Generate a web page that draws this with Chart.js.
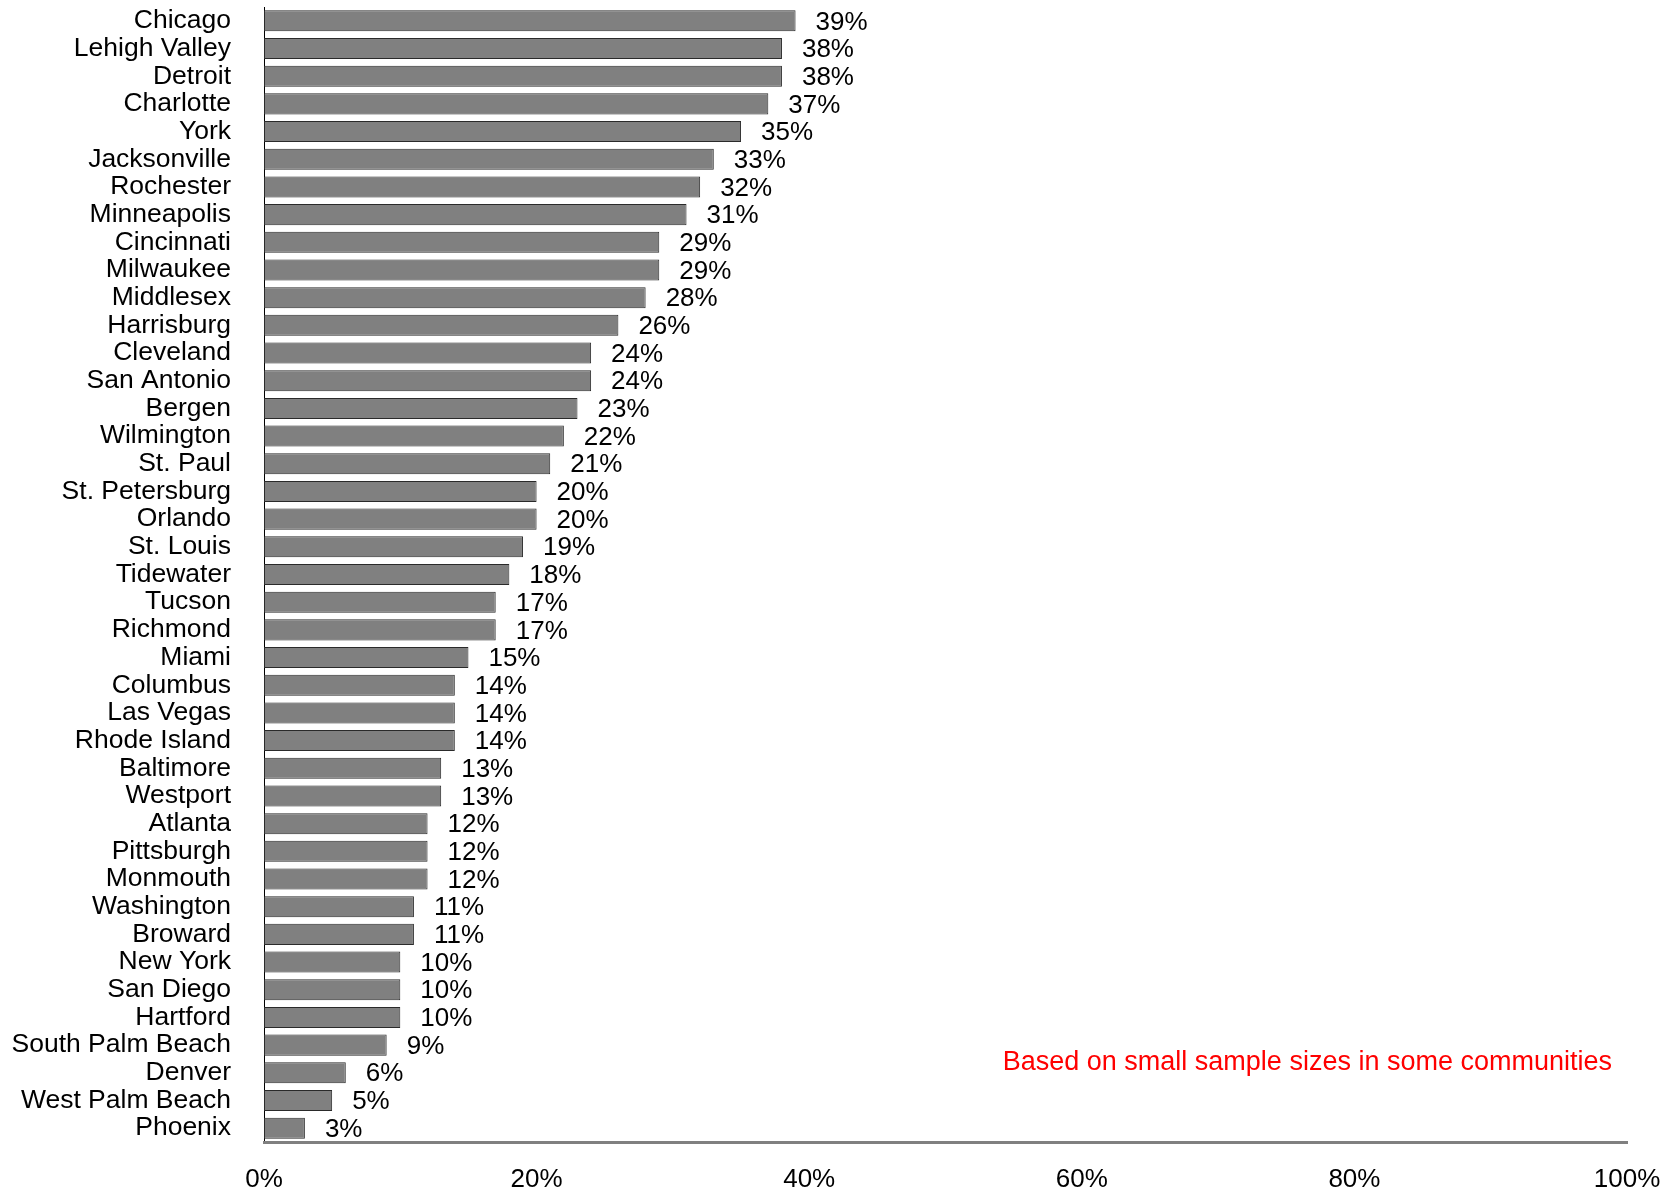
<!DOCTYPE html>
<html>
<head>
<meta charset="utf-8">
<script src="https://cdn.jsdelivr.net/npm/chart.js@4"></script>
<style>
    body { margin: 0; background: #fff; }
    #wrap { width: 1673px; height: 1193px; position: relative; }
</style>
</head>
<body>
<div id="wrap"><canvas id="chart"></canvas></div>
<script>
const cities = ['Chicago', 'Lehigh Valley', 'Detroit', 'Charlotte', 'York', 'Jacksonville', 'Rochester',
    'Minneapolis', 'Cincinnati', 'Milwaukee', 'Middlesex', 'Harrisburg', 'Cleveland', 'San Antonio',
    'Bergen', 'Wilmington', 'St. Paul', 'St. Petersburg', 'Orlando', 'St. Louis', 'Tidewater', 'Tucson',
    'Richmond', 'Miami', 'Columbus', 'Las Vegas', 'Rhode Island', 'Baltimore', 'Westport', 'Atlanta',
    'Pittsburgh', 'Monmouth', 'Washington', 'Broward', 'New York', 'San Diego', 'Hartford',
    'South Palm Beach', 'Denver', 'West Palm Beach', 'Phoenix'];
const shares = [39, 38, 38, 37, 35, 33, 32, 31, 29, 29, 28, 26, 24, 24, 23, 22, 21, 20, 20, 19, 18, 17,
    17, 15, 14, 14, 14, 13, 13, 12, 12, 12, 11, 11, 10, 10, 10, 9, 6, 5, 3];
const xTicks = [0, 20, 40, 60, 80, 100];
const note = 'Based on small sample sizes in some communities';

const FONT = "'Liberation Sans', Arial, sans-serif";
Chart.defaults.font.family = FONT;
Chart.defaults.font.size = 26;
Chart.defaults.color = '#000';

// 棒の右に値ラベルを描く
const valueLabels = {
    id: 'valueLabels',
    afterDatasetsDraw(chart) {
        const ctx = chart.ctx;
        const meta = chart.getDatasetMeta(0);
        ctx.save();
        ctx.font = '26px ' + FONT;
        ctx.fillStyle = '#000';
        ctx.textAlign = 'left';
        ctx.textBaseline = 'middle';
        meta.data.forEach((bar, i) => {
            ctx.fillText(shares[i] + '%', bar.x + 20, bar.y + 1.5);
        });
        ctx.restore();
    }
};

// 右下の注記
const notePlugin = {
    id: 'notePlugin',
    afterDraw(chart) {
        const ctx = chart.ctx;
        const xs = chart.scales.x, ys = chart.scales.y;
        ctx.save();
        ctx.font = '27px ' + FONT;
        ctx.fillStyle = '#ff0000';
        ctx.textAlign = 'left';
        ctx.textBaseline = 'middle';
        ctx.fillText(note, xs.getPixelForValue(54.2), ys.getPixelForValue(37.62));
        ctx.restore();
    }
};

new Chart(document.getElementById('chart'), {
    type: 'bar',
    data: {
        labels: cities,
        datasets: [{
            data: shares,
            backgroundColor: '#808080',
            borderColor: '#2a2a2a',
            borderWidth: 1,
            borderSkipped: false,
            barPercentage: 0.76,
            categoryPercentage: 1
        }]
    },
    options: {
        indexAxis: 'y',
        responsive: true,
        maintainAspectRatio: false,
        animation: false,
        layout: { padding: { top: 7, right: 46, left: 0, bottom: 0 } },
        plugins: {
            legend: { display: false },
            tooltip: { enabled: false }
        },
        scales: {
            y: {
                grid: { display: false, drawTicks: false },
                border: { display: true, color: '#000', width: 1 },
                ticks: { autoSkip: false, padding: 33, font: { size: 26.5 } },
                afterFit: (scale) => {
                    scale.width = 264;
                    scale.paddingTop = 0;
                    scale.paddingBottom = 0;
                }
            },
            x: {
                min: 0,
                max: 100,
                grid: { display: false, drawTicks: false },
                border: { display: true, color: '#808080', width: 3 },
                afterBuildTicks: (scale) => { scale.ticks = xTicks.map(v => ({ value: v })); },
                ticks: { padding: 22, callback: (v) => v + '%', maxRotation: 0 },
                afterFit: (scale) => {
                    scale.height = 51;
                    scale.paddingLeft = 0;
                    scale.paddingRight = 0;
                }
            }
        }
    },
    plugins: [valueLabels, notePlugin]
});
</script>
</body>
</html>
